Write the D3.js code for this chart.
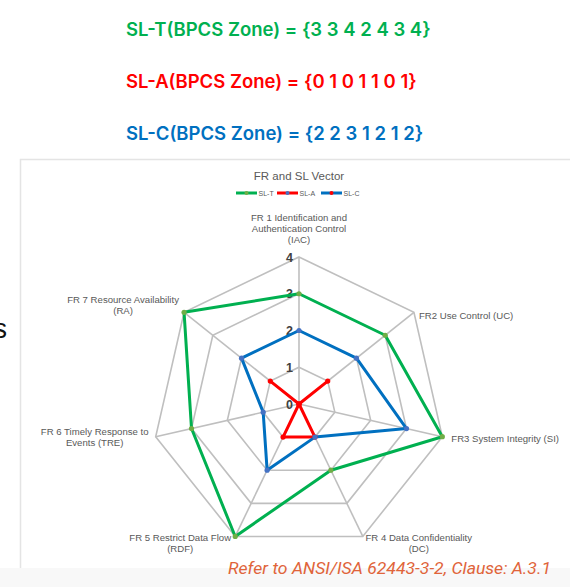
<!DOCTYPE html>
<html>
<head>
<meta charset="utf-8">
<script src="https://cdn.jsdelivr.net/npm/d3@7"></script>
<style>
  html, body { margin: 0; padding: 0; background: #fff; }
  svg { display: block; }
</style>
</head>
<body>
<svg width="570" height="587"></svg>
<script>
// data
const axes = ["FR1", "FR2", "FR3", "FR4", "FR5", "FR6", "FR7"];
const axisLabels = [
    ["FR 1 Identification and", "Authentication Control", "(IAC)"],
    ["FR2 Use Control (UC)"],
    ["FR3 System Integrity  (SI)"],
    ["FR 4 Data Confidentiality", "(DC)"],
    ["FR 5 Restrict Data Flow", "(RDF)"],
    ["FR 6 Timely Response to", "Events (TRE)"],
    ["FR 7 Resource Availability", "(RA)"]
];
const slT = [3, 3, 4, 2, 4, 3, 4];
const slA = [0, 1, 0, 1, 1, 0, 1];
const slC = [2, 2, 3, 1, 2, 1, 2];
const levels = [0, 1, 2, 3, 4];

const headers = [
    {text: "SL-T(BPCS Zone) = {3 3 4 2 4 3 4}", color: "#00b050"},
    {text: "SL-A(BPCS Zone) = {0 1 0 1 1 0 1}", color: "#ff0000"},
    {text: "SL-C(BPCS Zone) = {2 2 3 1 2 1 2}", color: "#0070c0"}
];

const series = [
    {name: "SL-T", values: slT, color: "#00b050", marker: "#70ad47", legendMarker: "#70ad47"},
    {name: "SL-A", values: slA, color: "#ff0000", marker: "#ff0000", legendMarker: "#4472c4"},
    {name: "SL-C", values: slC, color: "#0070c0", marker: "#4472c4", legendMarker: "#ff0000"}
];

const svg = d3.select("svg");
const cx = 299, cy = 404;

// bottom strip and frame
svg.append("rect").attr("x", 0).attr("y", 568).attr("width", 570).attr("height", 19).attr("fill", "#f8f8f8");
svg.append("path")
    .attr("d", "M20.5,568 V159.5 H570")
    .attr("fill", "none").attr("stroke", "#e4e4e4").attr("stroke-width", 1.5);

// leftover letter at the left edge (cut off in the source too)
svg.append("text").attr("x", 7).attr("y", 338).attr("text-anchor", "end")
    .attr("font-family", "Liberation Sans, Arial, sans-serif").attr("font-size", 27)
    .attr("fill", "#111").text("s");

// header lines
const hy = [36, 88, 140];
headers.forEach((h, i) => {
    svg.append("text")
        .attr("x", 126).attr("y", hy[i])
        .attr("font-family", "Inter, Open Sans, sans-serif")
        .attr("font-weight", 600).attr("font-size", 18.5)
        .attr("fill", h.color).text(h.text);
});

// title
svg.append("text").attr("x", 299).attr("y", 180).attr("text-anchor", "middle")
    .attr("font-family", "Liberation Sans, Arial, sans-serif").attr("font-size", 11.5)
    .attr("fill", "#595959").text("FR and SL Vector");

// legend
const legX = [236, 277, 321];
series.forEach((s, i) => {
    const g = svg.append("g").attr("transform", `translate(${legX[i]},193)`);
    g.append("line").attr("x1", 0).attr("x2", 21).attr("y1", 0).attr("y2", 0)
        .attr("stroke", s.color).attr("stroke-width", 3);
    g.append("circle").attr("cx", 10.5).attr("cy", 0).attr("r", 2).attr("fill", s.legendMarker);
    g.append("text").attr("x", 22.5).attr("y", 2.5)
        .attr("font-family", "Liberation Sans, Arial, sans-serif").attr("font-size", 7)
        .attr("fill", "#595959").text(s.name);
});

// scales
const r = d3.scaleLinear().domain([0, 4]).range([0, 147]);
const ang = d3.scaleLinear().domain([0, axes.length]).range([0, 2 * Math.PI]);
const px = (i, v) => cx + r(v) * Math.sin(ang(i));
const py = (i, v) => cy - r(v) * Math.cos(ang(i));

// grid
const grid = svg.append("g");
levels.slice(1).forEach(l => {
    grid.append("path")
        .attr("d", d3.line()(axes.map((a, i) => [px(i, l), py(i, l)])) + "Z")
        .attr("fill", "none").attr("stroke", "#bfbfbf").attr("stroke-width", 1.6);
});
axes.forEach((a, i) => {
    grid.append("line")
        .attr("x1", cx).attr("y1", cy).attr("x2", px(i, 4)).attr("y2", py(i, 4))
        .attr("stroke", "#bfbfbf").attr("stroke-width", 1.6);
});

// level tick labels
levels.forEach(l => {
    svg.append("text").attr("x", cx - 6).attr("y", cy - r(l) + 4.5).attr("text-anchor", "end")
        .attr("font-family", "Liberation Sans, Arial, sans-serif").attr("font-size", 12.5)
        .attr("font-weight", "bold").attr("fill", "#404040").text(l);
});

// axis labels: offsets from the outer vertex
const labelPos = [
    {dx: 0, dy: -36, anchor: "middle"},
    {dx: 5, dy: 7, anchor: "start"},
    {dx: 9, dy: 5, anchor: "start"},
    {dx: 56, dy: 5, anchor: "middle"},
    {dx: -55, dy: 5, anchor: "middle"},
    {dx: -61, dy: -2, anchor: "middle"},
    {dx: -61, dy: -9, anchor: "middle"}
];
axisLabels.forEach((lines, i) => {
    const p = labelPos[i];
    const t = svg.append("text")
        .attr("x", px(i, 4) + p.dx).attr("y", py(i, 4) + p.dy)
        .attr("text-anchor", p.anchor)
        .attr("font-family", "Liberation Sans, Arial, sans-serif").attr("font-size", 9.6)
        .attr("fill", "#595959");
    lines.forEach((ln, k) => {
        t.append("tspan").attr("x", px(i, 4) + p.dx).attr("dy", k === 0 ? 0 : 11).text(ln);
    });
});

// series
series.forEach(s => {
    const pts = s.values.map((v, i) => [px(i, v), py(i, v)]);
    svg.append("path")
        .attr("d", d3.line()(pts) + "Z")
        .attr("fill", "none").attr("stroke", s.color).attr("stroke-width", 3)
        .attr("stroke-linejoin", "round");
});
series.forEach(s => {
    svg.append("g").selectAll("circle").data(s.values).join("circle")
        .attr("cx", (v, i) => px(i, v)).attr("cy", (v, i) => py(i, v))
        .attr("r", 2.6).attr("fill", s.marker);
});

// footnote
svg.append("text").attr("x", 228).attr("y", 574)
    .attr("font-family", "Roboto, Open Sans, sans-serif").attr("font-style", "italic")
    .attr("font-size", 16.5).attr("fill", "#e0643a")
    .attr("textLength", 323).attr("lengthAdjust", "spacingAndGlyphs")
    .text("Refer to ANSI/ISA 62443-3-2, Clause: A.3.1");
</script>
</body>
</html>
